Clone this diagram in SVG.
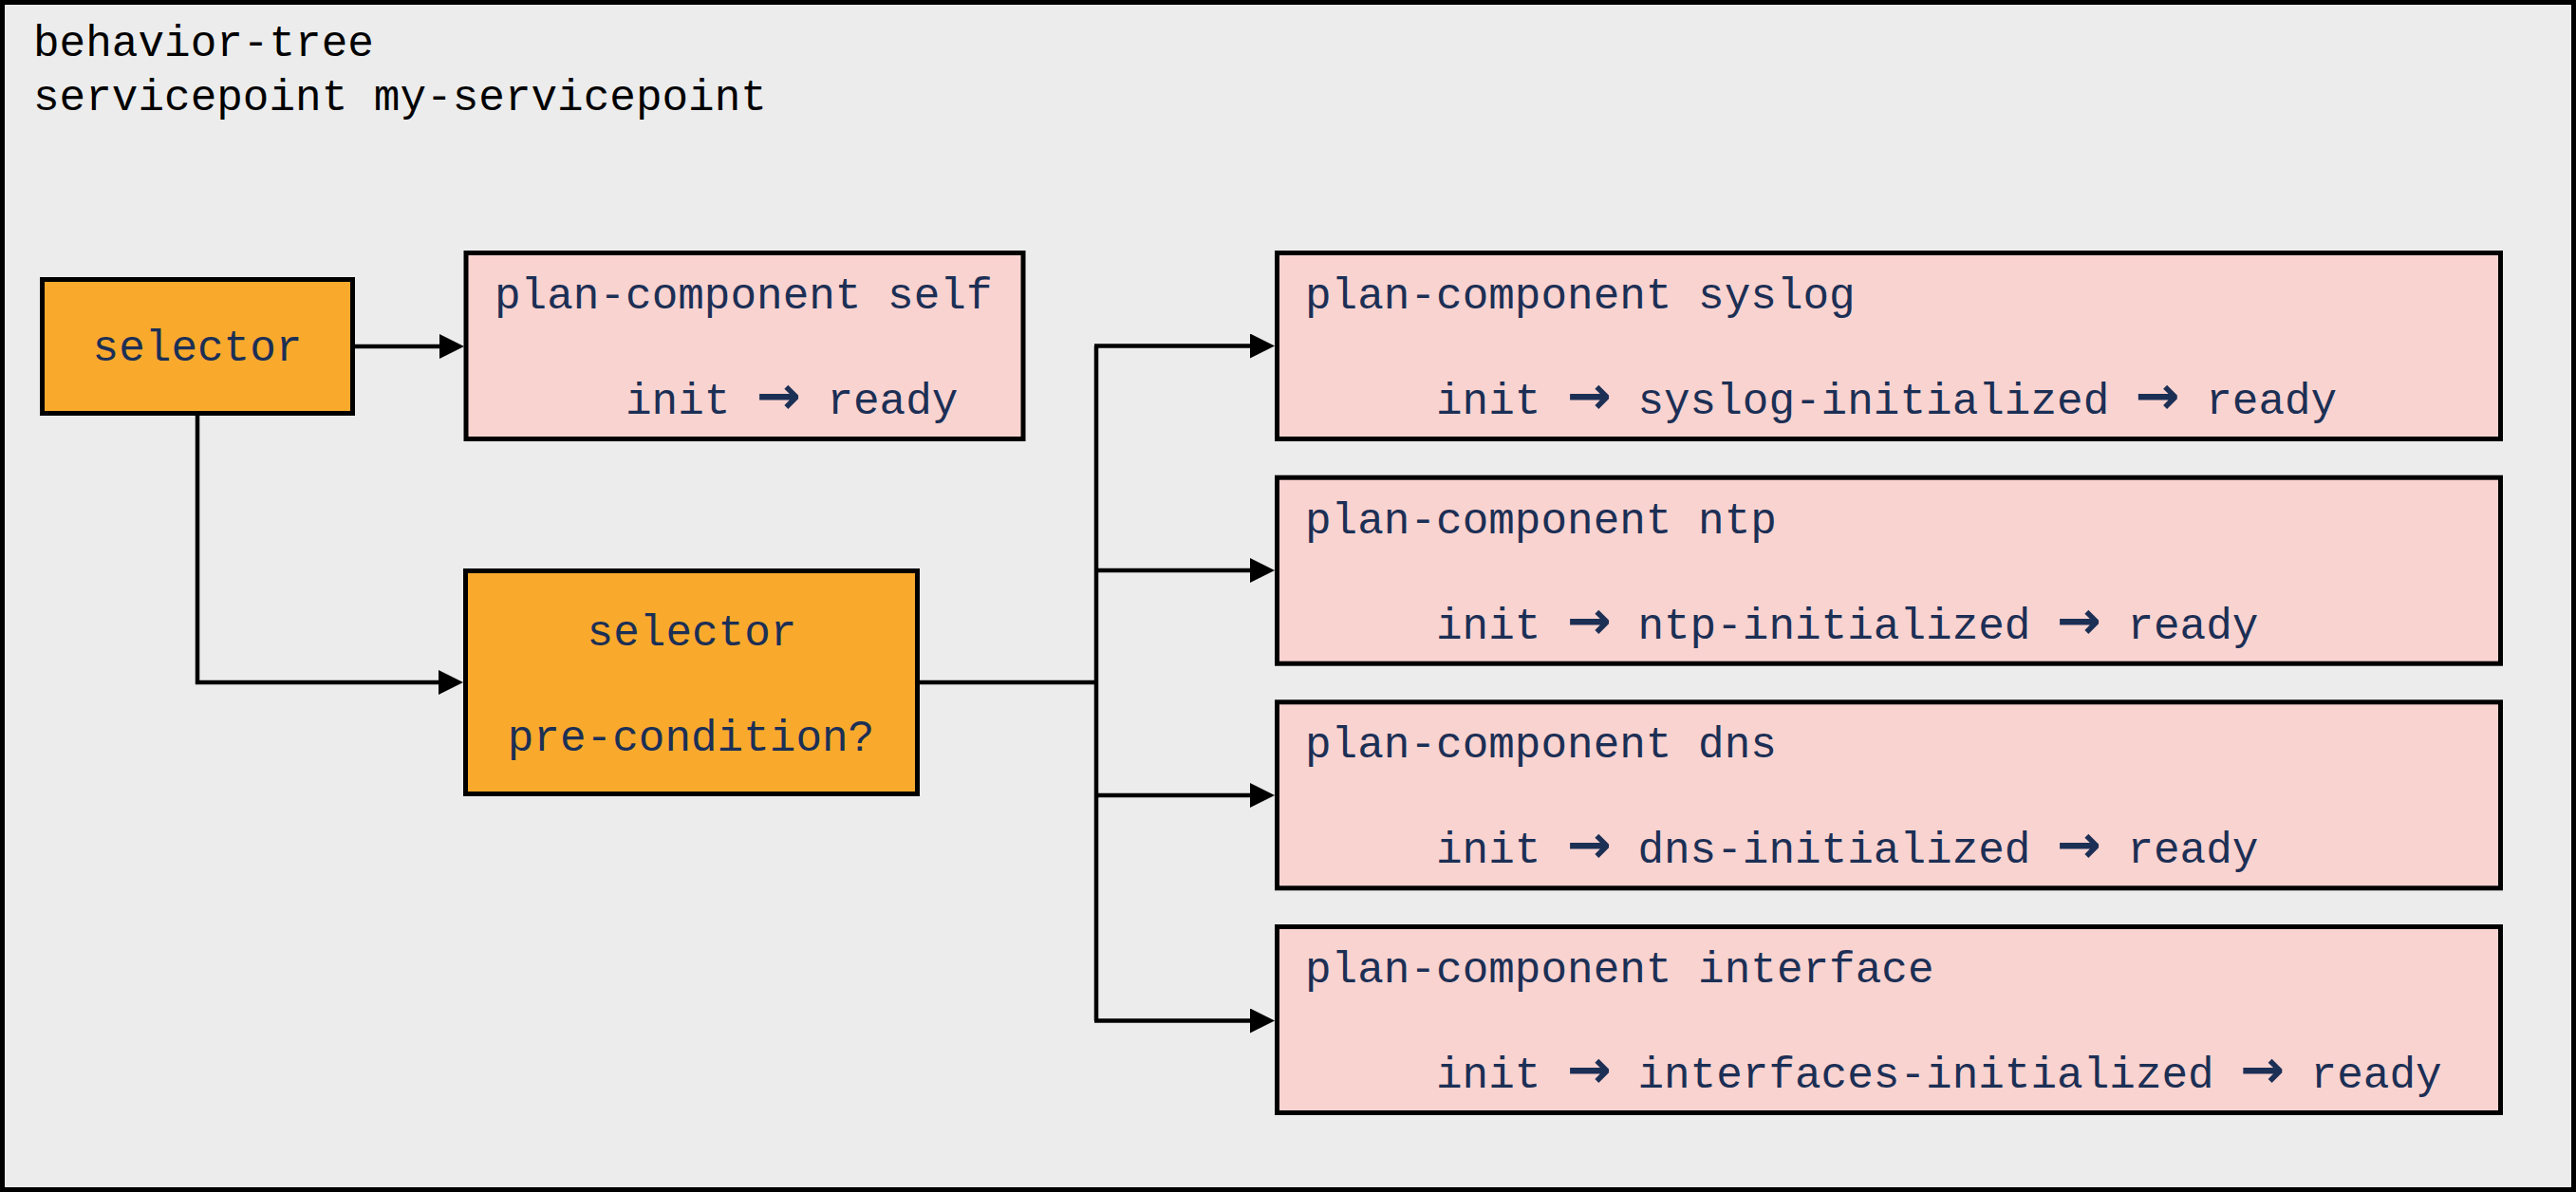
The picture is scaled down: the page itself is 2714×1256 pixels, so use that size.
<svg xmlns="http://www.w3.org/2000/svg" width="2714" height="1256" viewBox="0 0 2714 1256">
<style>
.t{font-family:"Liberation Mono","Courier New",monospace;font-size:46px;fill:#1c2f55}
.hdr{font-family:"Liberation Mono","Courier New",monospace;font-size:46px;fill:#000}
.c{text-anchor:middle}
.arr{font-family:"DejaVu Sans",sans-serif;font-weight:bold;font-size:56px;text-anchor:middle}
.sel{fill:#f9aa2d;stroke:#000;stroke-width:5}
.pc{fill:#f9d3d0;stroke:#000;stroke-width:5}
.ln{fill:none;stroke:#000;stroke-width:4.5}
</style>
<defs>
<marker id="ah" markerUnits="userSpaceOnUse" markerWidth="26" markerHeight="26" refX="6" refY="13" orient="auto">
<path d="M0,0 L26,13 L0,26 z" fill="#000"/>
</marker>
</defs>
<rect id="frame" x="2.5" y="2.5" width="2709" height="1251" fill="#ececec" stroke="#000" stroke-width="5"/>
<g id="title">
<text class="hdr" x="35" y="59">behavior-tree</text>
<text class="hdr" x="35" y="116">servicepoint my-servicepoint</text>
</g>
<g id="connectors">
<path class="ln" d="M374,365 H469" marker-end="url(#ah)"/>
<path class="ln" d="M208,438 V719 H468" marker-end="url(#ah)"/>
<path class="ln" d="M969,719 H1155"/>
<path class="ln" d="M1155,364.5 V1075.5"/>
<path class="ln" d="M1153,364.5 H1323" marker-end="url(#ah)"/>
<path class="ln" d="M1155,601 H1323" marker-end="url(#ah)"/>
<path class="ln" d="M1155,838 H1323" marker-end="url(#ah)"/>
<path class="ln" d="M1153,1075.5 H1323" marker-end="url(#ah)"/>
</g>
<g id="selector-root">
<rect class="sel" x="44.5" y="294.5" width="327" height="141"/>
<text class="t c" x="208" y="380">selector</text>
</g>
<g id="plan-self">
<rect class="pc" x="491" y="266.5" width="587" height="196"/>
<text class="t" x="521" y="325">plan-component self</text>
<text class="t" y="436"><tspan x="659">init</tspan><tspan class="arr" x="820.4">→</tspan><tspan x="871.4">ready</tspan></text>
</g>
<g id="selector-pre">
<rect class="sel" x="490.5" y="601.5" width="476" height="235"/>
<text class="t c" x="729" y="680">selector</text>
<text class="t c" x="728" y="791">pre-condition?</text>
</g>
<g id="plan-syslog">
<rect class="pc" x="1345.5" y="266.5" width="1289" height="196"/>
<text class="t" x="1375" y="325">plan-component syslog</text>
<text class="t" y="436"><tspan x="1513">init</tspan><tspan class="arr" x="1674.4">→</tspan><tspan x="1725.4">syslog-initialized</tspan><tspan class="arr" x="2273.2">→</tspan><tspan x="2324.2">ready</tspan></text>
</g>
<g id="plan-ntp">
<rect class="pc" x="1345.5" y="503.2" width="1289" height="196"/>
<text class="t" x="1375" y="561.7">plan-component ntp</text>
<text class="t" y="672.7"><tspan x="1513">init</tspan><tspan class="arr" x="1674.4">→</tspan><tspan x="1725.4">ntp-initialized</tspan><tspan class="arr" x="2190.4">→</tspan><tspan x="2241.4">ready</tspan></text>
</g>
<g id="plan-dns">
<rect class="pc" x="1345.5" y="739.8" width="1289" height="196"/>
<text class="t" x="1375" y="798.3">plan-component dns</text>
<text class="t" y="909.3"><tspan x="1513">init</tspan><tspan class="arr" x="1674.4">→</tspan><tspan x="1725.4">dns-initialized</tspan><tspan class="arr" x="2190.4">→</tspan><tspan x="2241.4">ready</tspan></text>
</g>
<g id="plan-interface">
<rect class="pc" x="1345.5" y="976.5" width="1289" height="196"/>
<text class="t" x="1375" y="1035">plan-component interface</text>
<text class="t" y="1146"><tspan x="1513">init</tspan><tspan class="arr" x="1674.4">→</tspan><tspan x="1725.4">interfaces-initialized</tspan><tspan class="arr" x="2383.6">→</tspan><tspan x="2434.6">ready</tspan></text>
</g>
</svg>
